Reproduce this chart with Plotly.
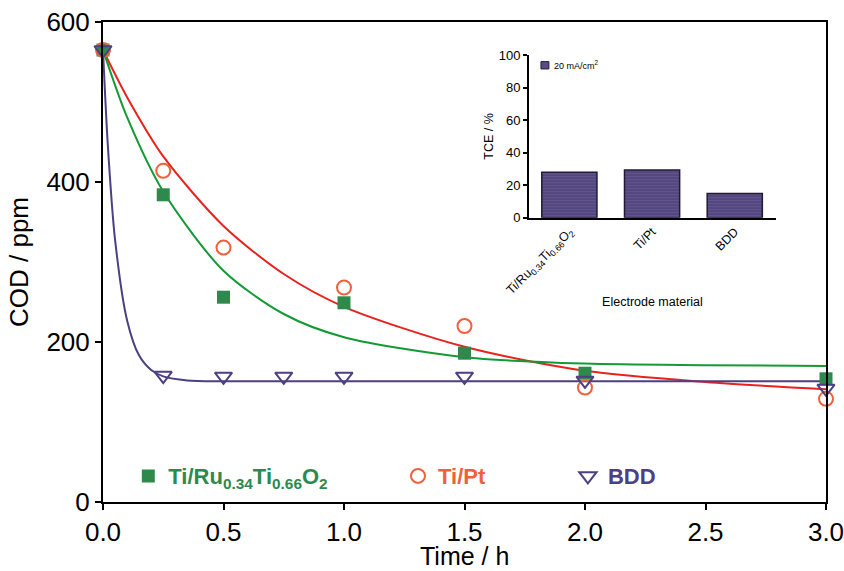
import plotly.graph_objects as go

# ---- COD decay measurements (ppm) vs electrolysis time (h) ----
time_ru = [0, 0.25, 0.5, 1.0, 1.5, 2.0, 3.0]
cod_ru = [565, 384, 256, 249, 186, 161, 154]

time_pt = [0, 0.25, 0.5, 1.0, 1.5, 2.0, 3.0]
cod_pt = [565, 414, 318, 268, 220, 143, 129]

time_bdd = [0, 0.25, 0.5, 0.75, 1.0, 1.5, 2.0, 3.0]
cod_bdd = [565, 158, 157, 157, 157, 157, 152, 142]

# ---- fitted decay curves, sampled ----
fit_t_ru = [0, 0.1, 0.25, 0.5, 0.75, 1.0, 1.5, 2.0, 2.5, 3.0]
fit_cod_ru = [565, 481, 388, 289, 235, 206, 181, 173, 171, 170]

fit_t_pt = [0, 0.1, 0.25, 0.5, 0.75, 1.0, 1.5, 2.0, 2.5, 3.0]
fit_cod_pt = [565, 506, 432, 345, 285, 244, 194, 164, 150, 141]

fit_t_bdd = [0, 0.02, 0.05, 0.1, 0.15, 0.2, 0.25, 0.35, 0.5, 1.0, 2.0, 3.0]
fit_cod_bdd = [565, 446, 328, 227, 183, 165, 157, 152, 151, 151, 151, 151]

# ---- inset: current efficiency per electrode ----
electrodes = ["Ti/Ru<sub>0.34</sub>Ti<sub>0.66</sub>O<sub>2</sub>", "Ti/Pt", "BDD"]
tce = [28.0, 29.4, 14.9]

GREEN_M = "#2e8a4c"
GREEN_L = "#139a34"
RED_M = "#f0603c"
RED_L = "#e8231f"
PURPLE = "#4c3f82"
FONT = "Arial, Liberation Sans, sans-serif"

fig = go.Figure()

# fitted curves
fig.add_trace(go.Scatter(x=fit_t_pt, y=fit_cod_pt, mode="lines",
                         line=dict(color=RED_L, width=2, shape="spline", smoothing=0.8),
                         showlegend=False, cliponaxis=False))
fig.add_trace(go.Scatter(x=fit_t_ru, y=fit_cod_ru, mode="lines",
                         line=dict(color=GREEN_L, width=2, shape="spline", smoothing=0.8),
                         showlegend=False, cliponaxis=False))
fig.add_trace(go.Scatter(x=fit_t_bdd, y=fit_cod_bdd, mode="lines",
                         line=dict(color=PURPLE, width=2, shape="spline", smoothing=0.8),
                         showlegend=False, cliponaxis=False))

# measured points
fig.add_trace(go.Scatter(
    x=time_ru, y=cod_ru, mode="markers", cliponaxis=False,
    marker=dict(symbol="square", size=13, color=GREEN_M),
    name=f"<b><span style='color:{GREEN_M}'>Ti/Ru<sub>0.34</sub>Ti<sub>0.66</sub>O<sub>2</sub></span></b>",
    legend="legend"))
fig.add_trace(go.Scatter(
    x=time_pt, y=cod_pt, mode="markers", cliponaxis=False,
    marker=dict(symbol="circle-open", size=14, color=RED_M, line=dict(width=2)),
    name=f"<b><span style='color:{RED_M}'>Ti/Pt</span></b>",
    legend="legend2"))
fig.add_trace(go.Scatter(
    x=time_bdd, y=cod_bdd, mode="markers", cliponaxis=False,
    marker=dict(symbol="triangle-down-open", size=15, color=PURPLE, line=dict(width=2)),
    name=f"<b><span style='color:{PURPLE}'>BDD</span></b>",
    legend="legend3"))

# inset bars
fig.add_trace(go.Bar(
    x=electrodes, y=tce, xaxis="x2", yaxis="y2", width=0.667,
    marker=dict(color="#5a4c88", line=dict(color="#221a33", width=1.5),
                pattern=dict(shape="-", size=3, solidity=0.25, fgcolor="#7a6fa3",
                             bgcolor="#54467f")),
    showlegend=False))

legend_common = dict(orientation="h", bgcolor="rgba(0,0,0,0)",
                     font=dict(family=FONT, size=22), yanchor="middle",
                     xanchor="left", itemwidth=30, tracegroupgap=0)

fig.update_layout(
    width=844, height=571,
    margin=dict(l=103, r=18, t=22, b=69, autoexpand=False),
    paper_bgcolor="white", plot_bgcolor="white",
    font=dict(family=FONT, color="black"),
    legend=dict(x=0.035, y=0.054, **legend_common),
    legend2=dict(x=0.408, y=0.054, **legend_common),
    legend3=dict(x=0.643, y=0.054, **legend_common),
    xaxis=dict(range=[0, 3], dtick=0.5, tickformat=".1f", automargin=False,
               ticklabeloverflow="allow",
               showline=True, linewidth=2, linecolor="black", mirror=True,
               ticks="outside", ticklen=6, tickwidth=2, tickcolor="black",
               showgrid=False, zeroline=False,
               tickfont=dict(size=26, family=FONT)),
    yaxis=dict(range=[0, 600], dtick=200, automargin=False,
               ticklabeloverflow="allow",
               showline=True, linewidth=2, linecolor="black", mirror=True,
               ticks="outside", ticklen=6, tickwidth=2, tickcolor="black",
               showgrid=False, zeroline=False,
               tickfont=dict(size=26, family=FONT),
               title=dict(text="COD / ppm", font=dict(size=26, family=FONT), standoff=10)),
    xaxis2=dict(domain=[0.589, 0.931], anchor="y2", type="category", automargin=False,
                range=[-0.49, 2.5], showline=True, linewidth=1.5, linecolor="black",
                ticks="", showgrid=False, zeroline=False, tickangle=-45,
                tickfont=dict(size=12.5, family=FONT),
                title=dict(text="Electrode material", font=dict(size=12.5, family=FONT), standoff=0)),
    yaxis2=dict(domain=[0.592, 0.931], anchor="x2", range=[0, 100], dtick=20, automargin=False,
                showline=True, linewidth=1.5, linecolor="black",
                ticks="outside", ticklen=4, tickwidth=1.5, tickcolor="black",
                showgrid=False, zeroline=False,
                tickfont=dict(size=13, family=FONT),
                title=dict(text="TCE / %", font=dict(size=12.5, family=FONT), standoff=2)),
)

# x-axis title, placed below the tick labels
fig.add_annotation(xref="paper", yref="paper", x=0.5, y=-0.112,
                   xanchor="center", yanchor="middle", showarrow=False,
                   text="Time / h", font=dict(size=25, family=FONT, color="black"))

# inset legend key
fig.add_shape(type="rect", xref="x2 domain", yref="y2 domain",
              x0=0.049, x1=0.081, y0=0.915, y1=0.96,
              fillcolor="#5a4c88", line=dict(color="#221a33", width=1))
fig.add_annotation(xref="x2 domain", yref="y2 domain", x=0.095, y=0.94,
                   xanchor="left", yanchor="middle", showarrow=False,
                   text="20 mA/cm<sup>2</sup>", font=dict(size=9, family=FONT))

fig.write_html("out.html")
